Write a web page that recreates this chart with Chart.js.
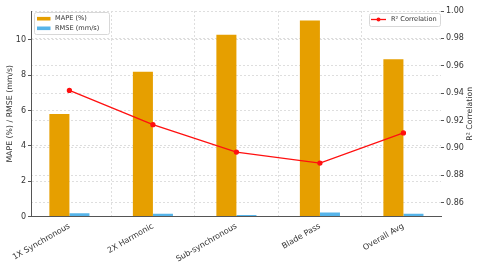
<!DOCTYPE html>
<html>
<head>
<meta charset="utf-8">
<script src="https://cdn.jsdelivr.net/npm/chart.js@4.4.0/dist/chart.umd.min.js"></script>
<style>
  html, body { margin: 0; padding: 0; background: #fff; }
</style>
</head>
<body>
<canvas id="chart" width="480" height="263"></canvas>
<script>
const categories = ["1X Synchronous", "2X Harmonic", "Sub-synchronous", "Blade Pass", "Overall Avg"];
const mapeValues = [5.8, 8.2, 10.3, 11.1, 8.9];
const rmseValues = [0.18, 0.15, 0.08, 0.23, 0.15];
const r2Values = [0.942, 0.917, 0.897, 0.889, 0.911];
const leftTicks = [0, 2, 4, 6, 8, 10];
const rightTicks = [0.86, 0.88, 0.90, 0.92, 0.94, 0.96, 0.98, 1.00];

const FONT = "'DejaVu Sans', sans-serif";
const TEXT = "#333";
const GRID = "#dedede";
const AXIS = "#555";

const toPoints = (vals) => vals.map((v, i) => ({ x: i, y: v }));

// legends are drawn by hand: one box for the bars (top left), one for the line (top right)
const legendBoxes = {
  id: "legendBoxes",
  afterDraw(chart) {
    const ctx = chart.ctx;
    const a = chart.chartArea;
    const ds = chart.data.datasets;
    ctx.save();
    ctx.font = "6.6px " + FONT;
    ctx.textBaseline = "middle";
    ctx.textAlign = "left";

    const frame = (x, y, w, h) => {
      ctx.fillStyle = "rgba(255,255,255,0.85)";
      ctx.strokeStyle = "#d8d8d8";
      ctx.lineWidth = 1;
      ctx.beginPath();
      ctx.roundRect(x + 0.5, y + 0.5, w, h, 2);
      ctx.fill();
      ctx.stroke();
    };

    frame(a.left + 3, a.top + 1, 75, 22);
    [0, 1].forEach((k, i) => {
      const y = a.top + 7.7 + i * 9.6;
      ctx.fillStyle = ds[k].backgroundColor;
      ctx.fillRect(a.left + 6, y - 1.8, 13.5, 3.6);
      ctx.fillStyle = TEXT;
      ctx.fillText(ds[k].label, a.left + 24, y);
    });

    const rx = a.right - 72;
    frame(rx, a.top + 2, 71, 13);
    const ly = a.top + 8.5;
    ctx.strokeStyle = ds[2].borderColor;
    ctx.lineWidth = 1.3;
    ctx.beginPath();
    ctx.moveTo(rx + 2, ly);
    ctx.lineTo(rx + 17, ly);
    ctx.stroke();
    ctx.fillStyle = ds[2].borderColor;
    ctx.beginPath();
    ctx.arc(rx + 9.5, ly, 2, 0, Math.PI * 2);
    ctx.fill();
    ctx.fillStyle = TEXT;
    ctx.fillText(ds[2].label, rx + 22, ly);

    // right axis title reads bottom-to-top like the left one
    ctx.font = "7.8px " + FONT;
    ctx.textAlign = "center";
    ctx.translate(chart.width - 10, (a.top + a.bottom) / 2);
    ctx.rotate(-Math.PI / 2);
    ctx.fillText("R² Correlation", 0, 0);
    ctx.restore();
  }
};

new Chart(document.getElementById("chart"), {
  data: {
    datasets: [
      {
        type: "bar",
        label: "MAPE (%)",
        data: toPoints(mapeValues),
        backgroundColor: "#E69F00",
        yAxisID: "y",
        categoryPercentage: 0.48,
        barPercentage: 1,
        order: 2
      },
      {
        type: "bar",
        label: "RMSE (mm/s)",
        data: toPoints(rmseValues),
        backgroundColor: "#56B4E9",
        yAxisID: "y",
        categoryPercentage: 0.48,
        barPercentage: 1,
        order: 2
      },
      {
        type: "line",
        label: "R² Correlation",
        data: toPoints(r2Values),
        borderColor: "#ff1010",
        backgroundColor: "#ff1010",
        borderWidth: 1.3,
        pointRadius: 2,
        pointHoverRadius: 2,
        yAxisID: "y1",
        order: 1
      }
    ]
  },
  options: {
    responsive: false,
    animation: false,
    devicePixelRatio: 1,
    layout: { padding: { top: 11, left: 0, right: 0, bottom: 0 } },
    plugins: {
      legend: { display: false },
      tooltip: { enabled: false }
    },
    scales: {
      x: {
        type: "linear",
        min: -0.46,
        max: 4.45,
        offset: false,
        afterBuildTicks: (s) => { s.ticks = categories.map((_, i) => ({ value: i })); },
        afterFit: (s) => { s.height = 46.5; },
        ticks: {
          callback: (v) => categories[v] ?? "",
          minRotation: 30,
          maxRotation: 30,
          padding: 2,
          color: TEXT,
          font: { family: FONT, size: 8 }
        },
        grid: { color: GRID, tickColor: "rgba(0,0,0,0)", tickLength: 3 },
        border: { display: true, color: AXIS, width: 1, dash: [2, 2] }
      },
      y: {
        position: "left",
        min: 0,
        max: 11.64,
        afterBuildTicks: (s) => { s.ticks = leftTicks.map((v) => ({ value: v })); },
        afterFit: (s) => { s.width = 31; },
        ticks: { color: TEXT, padding: 2, font: { family: FONT, size: 8 } },
        grid: { color: GRID, tickColor: AXIS, tickLength: 3, tickBorderDash: [] },
        border: { display: true, color: AXIS, width: 1, dash: [2, 2] },
        title: {
          display: true,
          text: "MAPE (%) / RMSE (mm/s)",
          color: TEXT,
          padding: { top: 5, bottom: 0 },
          font: { family: FONT, size: 7.8 }
        }
      },
      y1: {
        position: "right",
        min: 0.85,
        max: 1.0,
        afterBuildTicks: (s) => { s.ticks = rightTicks.map((v) => ({ value: v })); },
        afterFit: (s) => { s.width = 39; },
        ticks: {
          color: TEXT,
          padding: 2,
          callback: (v) => v.toFixed(2),
          font: { family: FONT, size: 8 }
        },
        grid: { color: GRID, tickColor: AXIS, tickLength: 3, tickBorderDash: [] },
        border: { display: false, dash: [2, 2] }
      }
    }
  },
  plugins: [legendBoxes]
});
</script>
</body>
</html>
